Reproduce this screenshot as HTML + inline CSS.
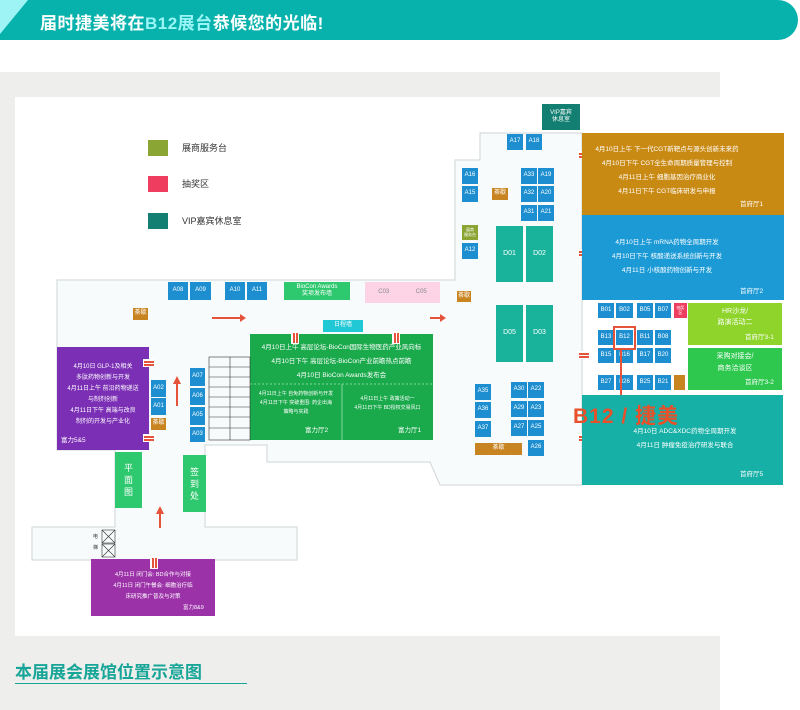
<!DOCTYPE html>
<html><head><meta charset="utf-8">
<style>
*{margin:0;padding:0;box-sizing:border-box}
body{width:800px;height:710px;position:relative;background:#fff;overflow:hidden;font-family:"Liberation Sans","Noto Sans CJK SC",sans-serif}
.a{position:absolute}
.b{position:absolute;background:#1d8fd0;color:#fff;font-size:6px;display:flex;align-items:center;justify-content:center;text-align:center;line-height:1.2}
.t{position:absolute;color:#fff;font-size:6.5px;text-align:center;line-height:14px;white-space:nowrap}
.o{background:#c98422}
.ar{position:absolute;height:2px;background:#e5533a}
.dh{position:absolute;width:12px;height:8px;background:#fff}
.dh:before,.dh:after{content:"";position:absolute;left:1px;width:10px;height:1.5px;background:#e5533a}
.dh:before{top:2px}.dh:after{top:5px}
.dv{position:absolute;width:8px;height:12px;background:#fff}
.dv:before,.dv:after{content:"";position:absolute;top:1px;width:1.5px;height:10px;background:#e5533a}
.dv:before{left:2px}.dv:after{left:5px}
</style></head><body>
<div class="a" style="left:0;top:0;width:40px;height:40px;background:#9ef3f5"></div>
<div class="a" style="left:0;top:0;width:798px;height:40px;background:#08b2ac;border-radius:0 20px 20px 0;clip-path:polygon(28px 0,100% 0,100% 100%,0 100%,0 34px)"></div>
<div class="a" style="left:40px;top:9px;color:#fff;font-weight:bold;font-size:17px;letter-spacing:0.5px">届时捷美将在<span style="color:#9af5f7">B12展台</span>恭候您的光临!</div>
<div class="a" style="left:0;top:72px;width:720px;height:638px;background:#eeeeec"></div>
<div class="a" style="left:15px;top:97px;width:705px;height:539px;background:#fff"></div>
<div class="a" style="left:15px;top:658px;color:#17a598;font-weight:bold;font-size:17px">本届展会展馆位置示意图</div>
<div class="a" style="left:15px;top:683px;width:232px;height:1px;background:#17a598"></div>

<svg class="a" style="left:0;top:0" width="800" height="710">
<polygon points="57,280 455,280 455,160 480,160 480,133 582,133 582,485 440,485 430,462 267,462 267,445 205,445 205,527 297,527 297,560 32,560 32,527 115,527 115,450 57,450" fill="#f7fbfc" stroke="#cfd4d6" stroke-width="1"/>
<polygon points="250,334 433,334 433,440 250,440" fill="#1aa94b"/>
<line x1="250" y1="384" x2="433" y2="384" stroke="#7fd79b" stroke-dasharray="2,2"/>
<line x1="342" y1="384" x2="342" y2="440" stroke="#7fd79b"/>
<g stroke="#333" stroke-width="0.6" fill="none">
<rect x="209" y="357" width="41" height="83"/>
<line x1="230" y1="357" x2="230" y2="440"/>
<line x1="209" y1="367" x2="250" y2="367"/><line x1="209" y1="377" x2="250" y2="377"/><line x1="209" y1="387" x2="250" y2="387"/><line x1="209" y1="397" x2="250" y2="397"/><line x1="209" y1="407" x2="250" y2="407"/><line x1="209" y1="417" x2="250" y2="417"/><line x1="209" y1="428" x2="250" y2="428"/>
<rect x="102" y="530" width="13" height="13"/><rect x="102" y="544" width="13" height="13"/>
<path d="M102,530 L115,543 M115,530 L102,543 M102,544 L115,557 M115,544 L102,557"/>
</g>
<g fill="#e5533a">
<polygon points="240,314 246,318 240,322"/><polygon points="440,314 446,318 440,322"/>
<polygon points="177,376 173,384 181,384"/><polygon points="160,506 156,514 164,514"/>
<polygon points="618,398 624,398 621,406"/>
</g>
</svg>
<div class="ar" style="left:212px;top:317px;width:30px"></div>
<div class="ar" style="left:430px;top:317px;width:12px"></div>
<div class="a" style="left:176px;top:382px;width:2px;height:24px;background:#e5533a"></div>
<div class="a" style="left:159px;top:512px;width:2px;height:16px;background:#e5533a"></div>

<div class="dh" style="left:578px;top:151px"></div>
<div class="dh" style="left:578px;top:249px"></div>
<div class="dh" style="left:578px;top:351px"></div>
<div class="dh" style="left:578px;top:434px"></div>
<div class="dv" style="left:291px;top:332px"></div>
<div class="dv" style="left:392px;top:332px"></div>
<div class="dh" style="left:143px;top:359px"></div>
<div class="dh" style="left:143px;top:434px"></div>
<div class="dv" style="left:150px;top:558px"></div>

<div class="a" style="left:148px;top:140px;width:20px;height:16px;background:#8aa534"></div>
<div class="a" style="left:182px;top:141px;font-size:9px;color:#333">展商服务台</div>
<div class="a" style="left:148px;top:176px;width:20px;height:16px;background:#ef3d5f"></div>
<div class="a" style="left:182px;top:177px;font-size:9px;color:#333">抽奖区</div>
<div class="a" style="left:148px;top:213px;width:20px;height:16px;background:#137f72"></div>
<div class="a" style="left:182px;top:214px;font-size:9px;color:#333">VIP嘉宾休息室</div>

<div class="b" style="left:542px;top:104px;width:38px;height:26px;background:#137f72">VIP嘉宾<br>休息室</div>
<div class="b" style="left:507px;top:134px;width:16px;height:16px">A17</div>
<div class="b" style="left:526px;top:134px;width:16px;height:16px">A18</div>
<div class="b" style="left:462px;top:168px;width:16px;height:16px">A16</div>
<div class="b" style="left:462px;top:186px;width:16px;height:16px">A15</div>
<div class="b o" style="left:492px;top:188px;width:16px;height:12px">茶歇</div>
<div class="b" style="left:521px;top:168px;width:16px;height:16px">A33</div>
<div class="b" style="left:538px;top:168px;width:16px;height:16px">A19</div>
<div class="b" style="left:521px;top:186px;width:16px;height:16px">A32</div>
<div class="b" style="left:538px;top:186px;width:16px;height:16px">A20</div>
<div class="b" style="left:521px;top:205px;width:16px;height:16px">A31</div>
<div class="b" style="left:538px;top:205px;width:16px;height:16px">A21</div>
<div class="b" style="left:462px;top:225px;width:16px;height:15px;background:#8aa534;font-size:4px">展商<br>服务台</div>
<div class="b" style="left:462px;top:243px;width:16px;height:16px">A12</div>
<div class="b o" style="left:457px;top:291px;width:14px;height:11px">茶歇</div>
<div class="b" style="left:496px;top:226px;width:27px;height:56px;background:#19b39c;font-size:7px">D01</div>
<div class="b" style="left:526px;top:226px;width:27px;height:56px;background:#19b39c;font-size:7px">D02</div>
<div class="b" style="left:496px;top:305px;width:27px;height:57px;background:#19b39c;font-size:7px">D05</div>
<div class="b" style="left:526px;top:305px;width:27px;height:57px;background:#19b39c;font-size:7px">D03</div>
<div class="b" style="left:475px;top:384px;width:16px;height:16px">A35</div>
<div class="b" style="left:475px;top:402px;width:16px;height:16px">A36</div>
<div class="b" style="left:475px;top:421px;width:16px;height:16px">A37</div>
<div class="b" style="left:511px;top:382px;width:16px;height:16px">A30</div>
<div class="b" style="left:528px;top:382px;width:16px;height:16px">A22</div>
<div class="b" style="left:511px;top:401px;width:16px;height:16px">A29</div>
<div class="b" style="left:528px;top:401px;width:16px;height:16px">A23</div>
<div class="b" style="left:511px;top:420px;width:16px;height:16px">A27</div>
<div class="b" style="left:528px;top:420px;width:16px;height:16px">A25</div>
<div class="b" style="left:528px;top:440px;width:16px;height:16px">A26</div>
<div class="b o" style="left:475px;top:443px;width:47px;height:12px">茶歇</div>

<div class="a" style="left:582px;top:133px;width:202px;height:82px;background:#c98a14"></div>
<div class="t" style="left:582px;top:143px;width:170px">4月10日上午 下一代CGT新靶点与源头创新未来药<br>4月10日下午 CGT全生命周期质量管理与控制<br>4月11日上午 细胞基因治疗商业化<br>4月11日下午 CGT临床研发与申报</div>
<div class="t" style="left:740px;top:198px">首府厅1</div>
<div class="a" style="left:582px;top:215px;width:202px;height:85px;background:#1b9ad6"></div>
<div class="t" style="left:582px;top:236px;width:170px">4月10日上午 mRNA药物全周期开发<br>4月10日下午 核酸递送系统创新与开发<br>4月11日 小核酸药物创新与开发</div>
<div class="t" style="left:740px;top:285px">首府厅2</div>
<div class="b" style="left:598px;top:303px;width:16px;height:15px">B01</div>
<div class="b" style="left:616px;top:303px;width:17px;height:15px">B02</div>
<div class="b" style="left:637px;top:303px;width:16px;height:15px">B05</div>
<div class="b" style="left:655px;top:303px;width:16px;height:15px">B07</div>
<div class="b" style="left:674px;top:303px;width:13px;height:15px;background:#ef3d5f;font-size:4px">抽奖<br>区</div>
<div class="b" style="left:598px;top:330px;width:16px;height:15px">B13</div>
<div class="b" style="left:616px;top:330px;width:17px;height:15px">B12</div>
<div class="b" style="left:637px;top:330px;width:16px;height:15px">B11</div>
<div class="b" style="left:655px;top:330px;width:16px;height:15px">B08</div>
<div class="b" style="left:598px;top:348px;width:16px;height:15px">B15</div>
<div class="b" style="left:616px;top:348px;width:17px;height:15px">B16</div>
<div class="b" style="left:637px;top:348px;width:16px;height:15px">B17</div>
<div class="b" style="left:655px;top:348px;width:16px;height:15px">B20</div>
<div class="b" style="left:598px;top:375px;width:16px;height:15px">B27</div>
<div class="b" style="left:616px;top:375px;width:17px;height:15px">B26</div>
<div class="b" style="left:637px;top:375px;width:16px;height:15px">B25</div>
<div class="b" style="left:655px;top:375px;width:16px;height:15px">B21</div>
<div class="b o" style="left:674px;top:375px;width:11px;height:15px"></div>
<div class="a" style="left:613px;top:326px;width:23px;height:24px;border:2px solid #e5533a"></div>
<div class="a" style="left:620px;top:350px;width:2px;height:50px;background:#e5533a"></div>
<div class="a" style="left:688px;top:303px;width:94px;height:42px;background:#8ed42a"></div>
<div class="t" style="left:688px;top:306px;width:94px;line-height:11px;font-size:7px">HR沙龙/<br>路演活动二</div>
<div class="t" style="left:745px;top:331px">首府厅3-1</div>
<div class="a" style="left:688px;top:348px;width:94px;height:42px;background:#2ec84f"></div>
<div class="t" style="left:688px;top:351px;width:94px;line-height:12px;font-size:7px">采购对接会/<br>商务洽谈区</div>
<div class="t" style="left:745px;top:376px">首府厅3-2</div>
<div class="a" style="left:582px;top:395px;width:201px;height:90px;background:#16b0a6"></div>
<div class="t" style="left:600px;top:425px;width:170px">4月10日 ADC&amp;XDC药物全周期开发<br>4月11日 肿瘤免疫治疗研发与联合</div>
<div class="t" style="left:740px;top:468px">首府厅5</div>
<div class="a" style="left:573px;top:400px;color:#e8502a;font-weight:bold;font-size:21px;letter-spacing:1px">B12 / 捷美</div>

<div class="b" style="left:168px;top:282px;width:20px;height:18px">A08</div>
<div class="b" style="left:190px;top:282px;width:21px;height:18px">A09</div>
<div class="b" style="left:225px;top:282px;width:20px;height:18px">A10</div>
<div class="b" style="left:247px;top:282px;width:20px;height:18px">A11</div>
<div class="b" style="left:284px;top:282px;width:66px;height:18px;background:#2ec86e;font-size:6px">BioCon Awards<br>奖项发布墙</div>
<div class="b" style="left:365px;top:282px;width:75px;height:21px;background:#fcd4e6;color:#888;justify-content:space-around">C03<span>C05</span></div>
<div class="b o" style="left:133px;top:308px;width:15px;height:12px">茶歇</div>
<div class="b" style="left:323px;top:320px;width:40px;height:12px;background:#20c8d6">日程墙</div>
<div class="t" style="left:250px;top:341px;width:183px">4月10日上午 高层论坛-BioCon国际生物医药产业风向标<br>4月10日下午 高层论坛-BioCon产业前瞻热点前瞻<br>4月10日 BioCon Awards发布会</div>
<div class="t" style="left:250px;top:390px;width:92px;font-size:5px;line-height:9px">4月11日上午 自免药物创新与开发<br>4月11日下午 突破重围: 药企出海<br>策略与实践</div>
<div class="t" style="left:342px;top:395px;width:91px;font-size:5px;line-height:9px">4月11日上午 政策活动一<br>4月11日下午 BD授权交易风口</div>
<div class="t" style="left:305px;top:424px">富力厅2</div>
<div class="t" style="left:398px;top:424px">富力厅1</div>
<div class="b" style="left:190px;top:368px;width:15px;height:18px">A07</div>
<div class="b" style="left:190px;top:388px;width:15px;height:17px">A06</div>
<div class="b" style="left:190px;top:407px;width:15px;height:18px">A05</div>
<div class="b" style="left:190px;top:427px;width:15px;height:15px">A03</div>
<div class="a" style="left:57px;top:347px;width:92px;height:103px;background:#7b2fb5"></div>
<div class="t" style="left:57px;top:362px;width:92px;font-size:6px;line-height:11px">4月10日 GLP-1及相关<br>多肽药物创新与开发<br>4月11日上午 前沿药物递送<br>与制剂创新<br>4月11日下午 高端与改良<br>制剂的开发与产业化</div>
<div class="t" style="left:61px;top:434px">富力5&amp;5</div>
<div class="dh" style="left:143px;top:359px"></div>
<div class="dh" style="left:143px;top:434px"></div>
<div class="b" style="left:151px;top:380px;width:15px;height:17px">A02</div>
<div class="b" style="left:151px;top:398px;width:15px;height:17px">A01</div>
<div class="b o" style="left:151px;top:418px;width:15px;height:12px">茶歇</div>
<div class="b" style="left:115px;top:452px;width:27px;height:56px;background:#2ec86e;font-size:9px;line-height:12px">平<br>面<br>图</div>
<div class="b" style="left:183px;top:455px;width:23px;height:57px;background:#2ec86e;font-size:9px;line-height:12px">签<br>到<br>处</div>
<div class="a" style="left:93px;top:532px;font-size:5px;color:#333;line-height:11px">电<br>梯</div>
<div class="a" style="left:91px;top:559px;width:124px;height:57px;background:#9b32a8"></div>
<div class="dv" style="left:150px;top:557px"></div>
<div class="t" style="left:91px;top:570px;width:124px;font-size:5.5px;line-height:11px">4月11日 闭门会: BD合作与对接<br>4月11日 闭门午餐会: 细胞治疗临<br>床研究推广普及与对策</div>
<div class="t" style="left:183px;top:601px;font-size:5.5px">富力8&amp;9</div>
</body></html>
